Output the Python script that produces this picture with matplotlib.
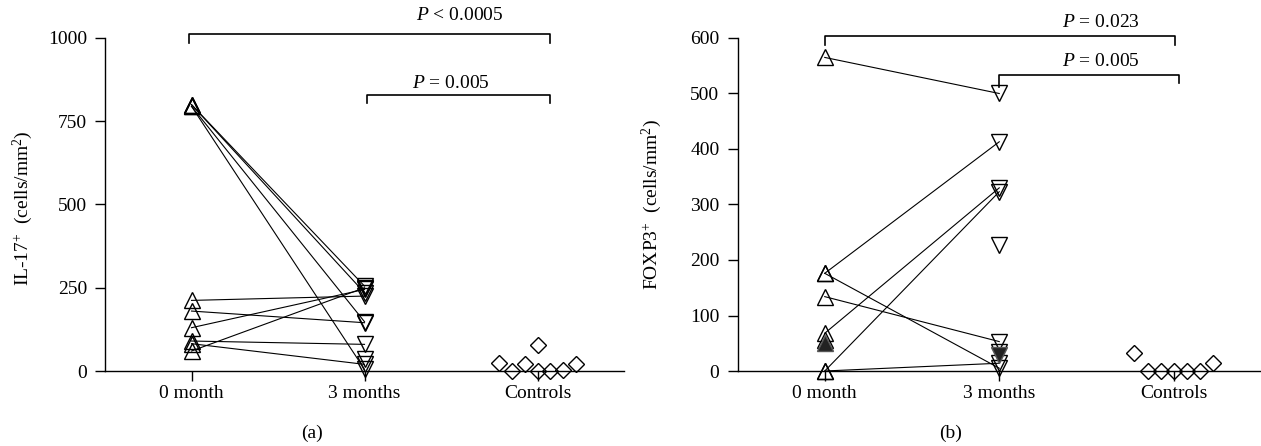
import numpy as np
import matplotlib
matplotlib.use("Agg")
import matplotlib.pyplot as plt

# Values
categories = ['0 month', '3 months', 'Controls']

# (a) IL-17+ cells/mm2 (paired patients, same order in both lists)
il17_month0 = [800, 800, 795, 795, 212, 180, 130, 90, 82, 60]
il17_month3 = [255, 235, 148, 5, 225, 145, 245, 80, 20, 250]
il17_month3_extra = [35]
il17_controls = [23, 0, 20, 78, 0, 0, 2, 20]
il17_ticks = [0, 250, 500, 750, 1000]

# (b) FOXP3+ cells/mm2
foxp3_month0 = [565, 176, 176, 134, 68, 0, 0]
foxp3_month3 = [500, 413, 5, 53, 330, 323, 14]
foxp3_month0_extra = [55]
foxp3_month3_extra = [227, 35]
foxp3_month0_filled = [50]
foxp3_month3_filled = [28]
foxp3_controls = [33, 0, 0, 0, 0, 0, 15]
foxp3_ticks = [0, 100, 200, 300, 400, 500, 600]

plt.rcParams['font.family'] = ['Liberation Serif', 'DejaVu Serif']
plt.rcParams['mathtext.fontset'] = 'custom'
plt.rcParams['mathtext.rm'] = 'Liberation Serif'
plt.rcParams['mathtext.it'] = 'Liberation Serif:italic'

FS = 14
TRI = 11.5
MEW = 1.0


def draw_panel(ax, month0, month3, controls, ctrl_slots, ticks, ylabel,
               extra0=(), extra3=(), filled0=(), filled3=()):
    """Draw one before/after panel with the control group."""
    # lines joining the paired values
    for a, b in zip(month0, month3):
        ax.plot([0, 1], [a, b], color='black', lw=0.8, clip_on=False, zorder=2)

    style = dict(ls='none', mfc='none', mec='black', mew=MEW, clip_on=False, zorder=3)
    ax.plot(np.zeros(len(month0)), month0, marker='^', ms=TRI, **style)
    ax.plot(np.ones(len(month3)), month3, marker='v', ms=TRI, **style)
    if len(extra0):
        ax.plot(np.zeros(len(extra0)), extra0, marker='^', ms=TRI, **style)
    if len(extra3):
        ax.plot(np.ones(len(extra3)), extra3, marker='v', ms=TRI, **style)
    if len(filled0):
        ax.plot(np.zeros(len(filled0)), filled0, marker='^', ms=TRI, ls='none',
                mfc='#222222', mec='#555555', mew=MEW, clip_on=False, zorder=3)
    if len(filled3):
        ax.plot(np.ones(len(filled3)), filled3, marker='v', ms=TRI, ls='none',
                mfc='#222222', mec='#555555', mew=MEW, clip_on=False, zorder=3)

    # controls spread side by side
    xs = 2 + 0.075 * np.array(ctrl_slots)
    ax.plot(xs, controls, marker='D', ms=8.5, **style)

    ax.set_xlim(-0.5, 2.5)
    ax.set_ylim(0, ticks[-1])
    ax.set_xticks([0, 1, 2])
    ax.set_xticklabels(categories, fontsize=FS)
    ax.set_yticks(ticks)
    ax.set_yticklabels([str(t) for t in ticks], fontsize=FS)
    ax.tick_params(axis='y', length=7, width=1.0, pad=6)
    ax.tick_params(axis='x', length=7, width=1.0, pad=3)
    for side in ['top', 'right']:
        ax.spines[side].set_visible(False)
    for side in ['left', 'bottom']:
        ax.spines[side].set_linewidth(1.0)
    ax.set_ylabel(ylabel, fontsize=FS)


def bracket(ax, x0, x1, y, d0, d1, label, tx, ty):
    """Significance bracket with its P value."""
    ax.plot([x0, x0, x1, x1], [y - d0, y, y, y - d1], color='black', lw=1.2,
            clip_on=False)
    ax.text(tx, ty, label, fontsize=FS, ha='center', va='center')


if __name__ == "__main__":
    fig = plt.figure(figsize=(12.61, 4.46), dpi=100)
    W, H = 1261, 446

    ax_a = fig.add_axes([105 / W, 75 / H, 519 / W, 333 / H])
    draw_panel(ax_a, il17_month0, il17_month3, il17_controls,
               [-3, -2, -1, 0, 0, 1, 2, 3], il17_ticks,
               r'IL-17$^{+}$  (cells/mm$^{2}$)', extra3=il17_month3_extra)
    ax_a.yaxis.set_label_coords(-0.135, 0.49)
    bracket(ax_a, -0.017, 2.075, 1013, 28, 28, r'$P$ < 0.0005', 1.55, 1069)
    bracket(ax_a, 1.017, 2.075, 828, 24, 24, r'$P$ = 0.005', 1.50, 864)

    ax_b = fig.add_axes([737.5 / W, 75 / H, 523.5 / W, 333 / H])
    draw_panel(ax_b, foxp3_month0, foxp3_month3, foxp3_controls,
               [-3, -2, -1, 0, 1, 2, 3], foxp3_ticks,
               r'FOXP3$^{+}$  (cells/mm$^{2}$)',
               extra0=foxp3_month0_extra, extra3=foxp3_month3_extra,
               filled0=foxp3_month0_filled, filled3=foxp3_month3_filled)
    ax_b.yaxis.set_label_coords(-0.14, 0.5)
    bracket(ax_b, 0.0, 2.01, 604, 17, 17, r'$P$ = 0.023', 1.58, 628)
    bracket(ax_b, 1.0, 2.03, 533, 21, 14, r'$P$ = 0.005', 1.58, 558)

    fig.text(312 / W, 1 - 433 / H, '(a)', fontsize=FS, ha='center', va='center')
    fig.text(951 / W, 1 - 433 / H, '(b)', fontsize=FS, ha='center', va='center')

    fig.savefig('out.png', dpi=100)
